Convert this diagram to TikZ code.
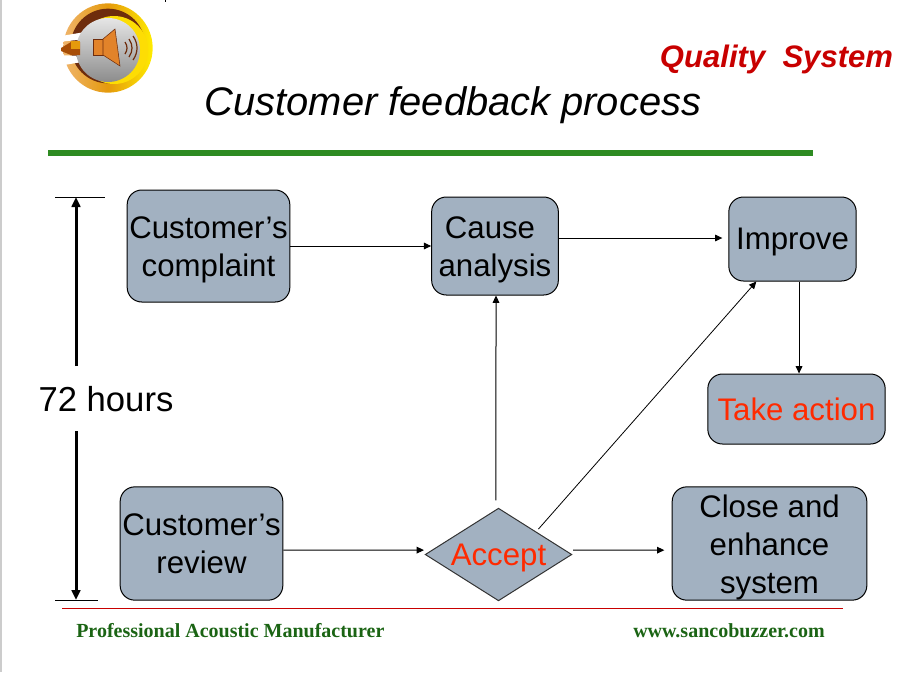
\documentclass[tikz,border=0pt]{standalone}
\usepackage{fontspec}
\setmainfont{Liberation Sans}
\newfontfamily\footfont{Liberation Serif}
\usetikzlibrary{arrows.meta,shapes.geometric}
\definecolor{boxfill}{HTML}{A2B1C1}
\definecolor{acceptred}{HTML}{FF2A00}
\definecolor{headred}{HTML}{C80000}
\definecolor{barGreen}{HTML}{2E8B22}
\definecolor{footgreen}{HTML}{1B6414}
\definecolor{ringgold}{HTML}{E59A0C}
\definecolor{ringpale}{HTML}{EFB46C}
\definecolor{ringbrown}{HTML}{6E2C0C}
\definecolor{horn}{HTML}{E2832A}
\tikzset{
    stepbox/.style={draw=black, line width=0.75pt, fill=boxfill, rounded corners=11pt, inner sep=0pt, align=center, font=\fontsize{23.4}{28.5}\selectfont},
    choice/.style={diamond, draw=black!80, line width=0.75pt, fill=boxfill, inner sep=0pt, aspect=1.58, font=\fontsize{23.4}{28.5}\selectfont, text=acceptred},
    flow/.style={line width=0.75pt, -{Triangle[length=5.5pt, width=5pt]}},
    span/.style={line width=2.25pt, -{Triangle[length=7.5pt, width=6.5pt]}},
    footer/.style={inner sep=0pt, text=footgreen, font=\footfont\bfseries\fontsize{15}{17}\selectfont}
}
\begin{document}
\begin{tikzpicture}[x=0.75pt, y=-0.75pt]
    \useasboundingbox (0, 0) rectangle (902, 672);
    \fill[black!20] (0, 0) rectangle (1.6, 672);
    \draw[line width=0.75pt] (165, 0) -- (165, 2);

    % logo
    \begin{scope}[shift={(108, 48)}, x=0.75pt, y=0.75pt]
        \shade[left color=ringpale, right color=yellow!85!orange, middle color=ringgold] (0, 0) circle[radius=33.5pt];
        \fill[ringbrown] (0, 2) circle[radius=28pt];
        \fill[yellow!80!orange] (6, -2) circle[radius=25.5pt];
        \fill[white] (-50, 11.5) -- (-26, 15.5) -- (-26, 8.5) -- (-50, 6) -- cycle;
        \fill[white] (-50, -7) -- (-26, -8) -- (-26, -14) -- (-50, -18) -- cycle;
        \fill[white] (-50, 6) rectangle (-47, -7);
        \shade[top color=black!10, bottom color=black!45] (0, -2) circle[radius=24pt];
        \fill[ringbrown!60!orange] (-47, 0) -- (-37, 6) -- (-28, 6) -- (-28, -7) -- (-37, -7) -- (-47, -3) -- cycle;
        \fill[ringgold] (-37, 7) rectangle (-28, -1);
        \fill[horn, draw=ringbrown, line width=0.4pt] (-15, 9) rectangle (-5, -7);
        \fill[horn, draw=ringbrown, line width=0.4pt] (-5, 9) -- (7, 19) -- (12, -18) -- (-5, -7) -- cycle;
        \foreach \r/\h in {3/6, 7/9, 11/12}
            \draw[ringbrown, line width=0.9pt] (14 + \r, \h) to[bend left=35] (14 + \r, -\h);
    \end{scope}

    % heading
    \node[inner sep=0pt, text=headred, font=\bfseries\itshape\fontsize{23.3}{28}\selectfont] (system) at (776.5, 59) {Quality\ \ System};
    \node[inner sep=0pt, font=\itshape\fontsize{29.9}{36}\selectfont] (title) at (453, 105) {Customer feedback process};
    \fill[barGreen] (48, 150) rectangle (813, 156);

    % steps
    \node[stepbox, minimum width=122pt, minimum height=84pt] (complaint) at (208.5, 246) {\rule{0pt}{22.4pt}Customer’s\\complaint};
    \node[stepbox, minimum width=95pt, minimum height=73.5pt] (cause) at (495, 246) {\rule{0pt}{22.4pt}Cause\rule{7.5pt}{0pt}\\analysis};
    \node[stepbox, minimum width=95.5pt, minimum height=63pt] (improve) at (792.5, 239) {\raisebox{-2.25pt}[\height][\depth]{Improve}};
    \node[stepbox, minimum width=133pt, minimum height=52.5pt, text=acceptred] (action) at (796.5, 409) {Take action};
    \node[stepbox, minimum width=122pt, minimum height=85pt] (review) at (201.5, 543.5) {Customer’s\\review};
    \node[stepbox, minimum width=146pt, minimum height=85pt] (close) at (769.5, 543.5) {\rule{0pt}{23pt}Close and\\enhance\\system};
    \node[choice, minimum width=110pt, minimum height=69.5pt] (accept) at (498.5, 554.5) {\raisebox{-2.25pt}[\height][\depth]{Accept}};

    % connectors
    \draw[flow] (complaint.east) -- (cause.west);
    \draw[flow] ([yshift=6pt]cause.east) -- ([xshift=-4.5pt, yshift=0.75pt]improve.west);
    \draw[flow] ([xshift=4.9pt]improve.south) -- ([xshift=1.9pt]action.north);
    \draw[flow] ([yshift=-5pt]review.east) -- ([xshift=-0.5pt, yshift=3.3pt]accept.west);
    \draw[flow] ([xshift=-1.9pt, yshift=5.5pt]accept.north) -- ([xshift=0.75pt]cause.south);
    \draw[flow] ([xshift=0.5pt, yshift=3.3pt]accept.east) -- ([xshift=-5.5pt, yshift=-5pt]close.west);
    \draw[flow, line width=0.6pt] ([xshift=2.25pt, yshift=1.5pt]accept.north east) -- ([xshift=21pt]improve.south west);

    % 72 hours
    \node[inner sep=0pt, font=\fontsize{26}{30}\selectfont] (hours) at (106, 399) {72 hours};
    \coordinate (top) at (76, 197);
    \coordinate (bottom) at (76, 600);
    \draw[line width=0.75pt] (55, 197) -- (105, 197);
    \draw[line width=0.75pt] (55, 600) -- (98, 600);
    \draw[span] (76, 366) -- (top);
    \draw[span] (76, 431) -- (bottom);

    % footer
    \draw[headred, line width=0.75pt] (62, 608) -- (843, 608);
    \node[footer, anchor=west] (maker) at (76, 631) {Professional Acoustic Manufacturer};
    \node[footer, anchor=east] (site) at (825, 631) {www.sancobuzzer.com};
\end{tikzpicture}
\end{document}
